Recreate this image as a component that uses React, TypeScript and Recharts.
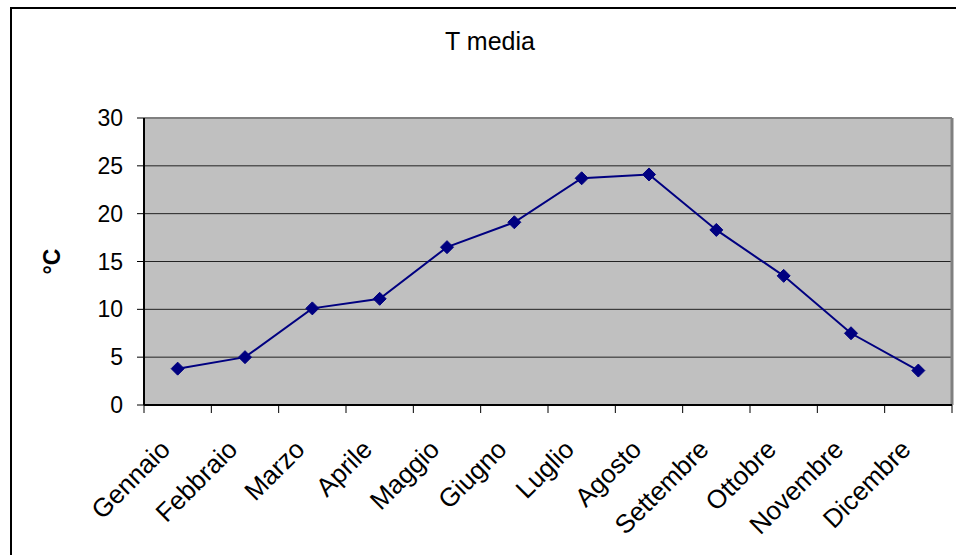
import React from 'react';
import { LineChart, Line, XAxis, YAxis, CartesianGrid, ReferenceLine } from 'recharts';

const months = ['Gennaio', 'Febbraio', 'Marzo', 'Aprile', 'Maggio', 'Giugno', 'Luglio', 'Agosto', 'Settembre', 'Ottobre', 'Novembre', 'Dicembre'];
const tMedia = [3.8, 5.0, 10.1, 11.1, 16.5, 19.1, 23.7, 24.1, 18.3, 13.5, 7.5, 3.6];
const yTicks = [0, 5, 10, 15, 20, 25, 30];
const boundaryTicks = [0, 1, 2, 3, 4, 5, 6, 7, 8, 9, 10, 11, 12];

// pos = centre of each category slot, used by the boundary tick axis
const data = months.map((m, i) => ({ month: m, t: tMedia[i], pos: i + 0.5 }));

const FONT = '"Liberation Sans", Arial, sans-serif';

const MonthTick = (props: any) => {
  const { x, y, payload } = props;
  return (
    <g transform={`translate(${x - 6},${y + 45})`}>
      <text x={0} y={0} textAnchor="end" transform="rotate(-45)" fontSize={26} fontFamily={FONT} fill="#000">
        {payload.value}
      </text>
    </g>
  );
};

const EmptyTick = () => <g />;

const Diamond = (props: any) => {
  const { cx, cy } = props;
  if (cx == null || cy == null) return null;
  const r = 6.5;
  return (
    <polygon
      points={`${cx},${cy - r} ${cx + r},${cy} ${cx},${cy + r} ${cx - r},${cy}`}
      fill="#000080"
      stroke="#000080"
      strokeWidth={1}
    />
  );
};

const DegLabel = (props: any) => {
  const { viewBox } = props;
  const cy = viewBox.y + viewBox.height / 2;
  const x = 60;
  return (
    <text x={x} y={cy} textAnchor="middle" transform={`rotate(-90, ${x}, ${cy})`} fontSize={23} fontWeight="bold" fontFamily={FONT} fill="#000">
      °C
    </text>
  );
};

export default function App() {
  return (
    <div style={{ position: 'fixed', left: 0, top: 0, width: 956, height: 555, background: '#fff', overflow: 'hidden' }}>
      <div style={{ position: 'absolute', left: 10, top: 7, width: 980, height: 600, border: '2px solid #000', boxSizing: 'border-box' }} />
      <div style={{ position: 'absolute', left: 390, top: 29, width: 200, textAlign: 'center', fontFamily: FONT, fontSize: 25, lineHeight: '24px', color: '#000' }}>
        T media
      </div>
      <div style={{ position: 'absolute', left: 0, top: 0 }}>
        <LineChart width={956} height={555} data={data} margin={{ top: 118, right: 4, bottom: 0, left: 0 }}>
          <CartesianGrid xAxisId="cat" vertical={false} fill="#c0c0c0" stroke="#222" strokeWidth={1} />
          <XAxis
            xAxisId="bnd"
            dataKey="pos"
            type="number"
            domain={[0, 12]}
            ticks={boundaryTicks}
            allowDataOverflow
            height={1}
            tick={<EmptyTick />}
            tickSize={8}
            tickLine={{ stroke: '#000', strokeWidth: 1 }}
            axisLine={{ stroke: '#000', strokeWidth: 2 }}
          />
          <XAxis
            xAxisId="cat"
            dataKey="month"
            scale="band"
            interval={0}
            height={149}
            tickSize={0}
            tickMargin={0}
            tickLine={false}
            axisLine={false}
            tick={<MonthTick />}
          />
          <YAxis
            domain={[0, 30]}
            ticks={yTicks}
            width={144}
            tickSize={7}
            tickMargin={14}
            tickLine={{ stroke: '#000' }}
            axisLine={{ stroke: '#000', strokeWidth: 2 }}
            tick={{ fontSize: 23, fontFamily: FONT, fill: '#000' }}
            label={<DegLabel />}
          />
          <ReferenceLine xAxisId="cat" y={30} stroke="#808080" strokeWidth={2} />
          <ReferenceLine xAxisId="bnd" x={12} stroke="#808080" strokeWidth={3} />
          <Line
            xAxisId="cat"
            type="linear"
            dataKey="t"
            stroke="#000080"
            strokeWidth={2}
            dot={<Diamond />}
            activeDot={false}
            isAnimationActive={false}
          />
        </LineChart>
      </div>
    </div>
  );
}
